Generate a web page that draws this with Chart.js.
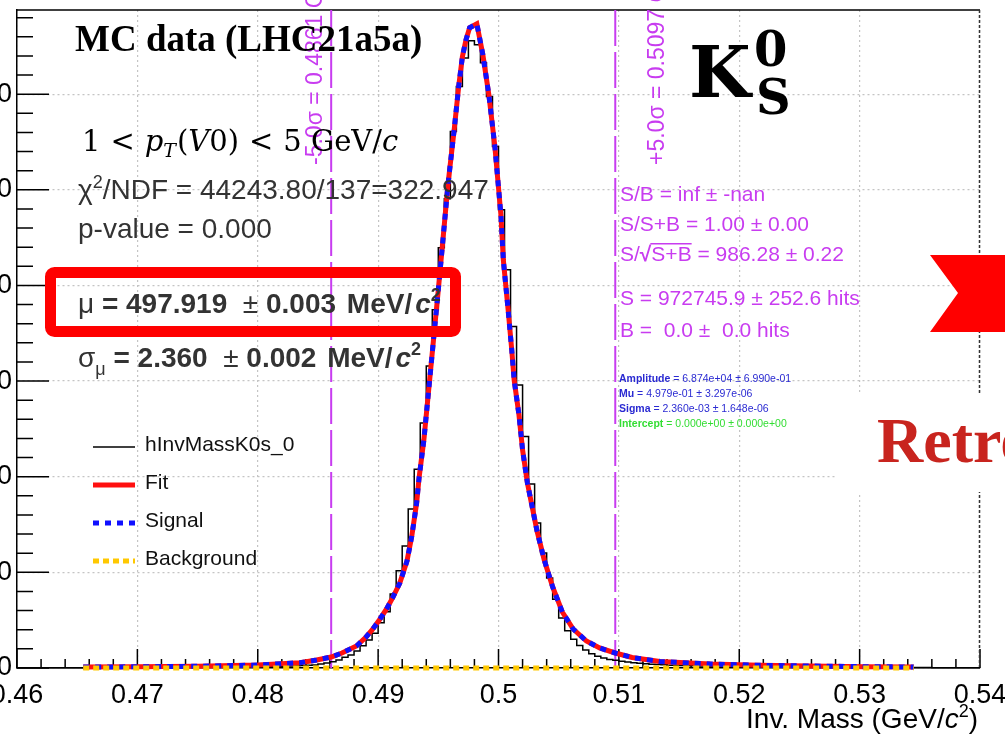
<!DOCTYPE html>
<html>
<head>
<meta charset="utf-8">
<title>K0S invariant mass</title>
<script src="https://cdn.jsdelivr.net/npm/chart.js@4.4.1/dist/chart.umd.min.js"></script>
<style>
  html, body { margin: 0; padding: 0; background: #fff; overflow: hidden; }
  #wrap { position: relative; width: 1005px; height: 734px; }
</style>
</head>
<body>
<div id="wrap"><canvas id="mass" width="1005" height="734"></canvas></div>
<script>
const massMin = 0.46;
const massMax = 0.54;
const binWidth = 0.0005;
const massMinorStep = 0.002;
const countMax = 68800;
const countMinorStep = 2000;

const massTicks = [0.46, 0.47, 0.48, 0.49, 0.5, 0.51, 0.52, 0.53, 0.54];
const countTicks = [0, 10000, 20000, 30000, 40000, 50000, 60000];

// hInvMassK0s_0, 160 bins of 0.5 MeV from 0.46 to 0.54
const histCounts = [
  18, 19, 20, 21, 22, 23, 24, 25, 27, 28,
  30, 32, 33, 35, 37, 39, 41, 43, 45, 48,
  50, 52, 55, 58, 61, 64, 67, 70, 74, 79,
  85, 90, 95, 100, 105, 110, 116, 122, 128, 134,
  140, 150, 165, 180, 195, 215, 235, 260, 285, 314,
  418, 523, 659, 837, 1119, 1360, 1778, 2333, 2929, 3630,
  4738, 5889, 7740, 10178, 12761, 16631, 20784, 25627, 31589, 37447,
  43932, 49057, 56097, 60804, 63775, 65584, 65166, 63283, 59758, 54528,
  47907, 41631, 35700, 29602, 24194, 19246, 15167, 12029, 9414, 7186,
  5230, 3900, 3000, 2350, 1880, 1500, 1230, 1040, 900, 800,
  700, 620, 550, 490, 440, 395, 360, 330, 300, 278,
  258, 240, 224, 210, 197, 185, 174, 164, 155, 147,
  139, 132, 125, 119, 113, 108, 103, 98, 94, 90,
  86, 82, 79, 76, 73, 70, 67, 65, 62, 60,
  58, 56, 54, 52, 50, 48, 47, 45, 44, 42,
  41, 40, 38, 37, 36, 35, 34, 33, 32, 31
];

// fitted line shape, sampled over the fit range
const fitMass = [
  0.4655, 0.4700, 0.4750, 0.4800, 0.4835, 0.4849, 0.4861, 0.4870, 0.4882, 0.4890,
  0.4895, 0.4901, 0.4907, 0.4912, 0.4918, 0.4924, 0.4928, 0.4932, 0.4934, 0.4938,
  0.4942, 0.4946, 0.4950, 0.4954, 0.4958, 0.4963, 0.4967, 0.4970, 0.4973, 0.4976,
  0.4982, 0.4987, 0.4992, 0.4997, 0.5002, 0.5004, 0.5008, 0.5011, 0.5013, 0.5017,
  0.5020, 0.5024, 0.5028, 0.5032, 0.5038, 0.5045, 0.5053, 0.5062, 0.5073, 0.5084,
  0.5097, 0.5111, 0.5134, 0.5176, 0.5217, 0.5259, 0.5304, 0.5345
];
const fitCounts = [
  100, 125, 180, 310, 554, 837, 1150, 1569, 2301, 3243,
  3975, 5021, 6171, 7322, 8891, 11192, 13807, 17259, 19874, 23849,
  29079, 34309, 39539, 44978, 50522, 56066, 60877, 63911, 65689, 66944,
  67362, 64120, 59936, 54497, 47384, 42677, 37447, 33263, 30125, 26464,
  22803, 19351, 16841, 14330, 11297, 8473, 5858, 4079, 2824, 2092,
  1569, 1098, 680, 418, 282, 209, 136, 105
];
// intercept is 0, so the signal part is the whole fit
const signalCounts = fitCounts.slice();
const bkgMass = [0.4655, 0.5345];
const bkgCounts = [0, 0];

// mu -/+ 5 sigma
const sigmaLines = [0.4861, 0.5097];

const SANS = '"Liberation Sans", Arial, sans-serif';
const SERIF = '"Liberation Serif", "Times New Roman", serif';
const MATH = '"DejaVu Serif", serif';
const MAGENTA = '#c83cf0';

const histPoints = histCounts.map((c, i) => ({ x: massMin + i * binWidth, y: c }));
histPoints.push({ x: massMax, y: histCounts[histCounts.length - 1] });
const toPoints = (xs, ys) => xs.map((m, i) => ({ x: m, y: ys[i] }));

// draws text pieces one after another; g = extra gap after a piece
function runs(ctx, x, y, parts) {
  let cx = x;
  for (const p of parts) {
    ctx.font = p.f;
    if (p.c) ctx.fillStyle = p.c;
    ctx.fillText(p.t, cx, y + (p.dy || 0));
    cx += ctx.measureText(p.t).width + (p.g || 0);
  }
  return cx;
}

const overlay = {
  id: 'overlay',
  beforeDatasetsDraw(chart) {
    const { ctx, chartArea: a, scales: { x, y } } = chart;
    ctx.save();
    // ticks point into the frame
    ctx.strokeStyle = '#000';
    ctx.lineWidth = 1.5;
    ctx.beginPath();
    const nx = Math.round((massMax - massMin) / massMinorStep);
    for (let i = 0; i <= nx; i++) {
      const px = x.getPixelForValue(massMin + i * massMinorStep);
      ctx.moveTo(px, a.bottom);
      ctx.lineTo(px, a.bottom - (i % 5 === 0 ? 19 : 9));
    }
    const ny = Math.floor(countMax / countMinorStep);
    for (let i = 0; i <= ny; i++) {
      const py = y.getPixelForValue(i * countMinorStep);
      ctx.moveTo(a.left, py);
      ctx.lineTo(a.left + (i % 5 === 0 ? 32 : 16), py);
    }
    ctx.stroke();

    // top and right side of the frame
    ctx.beginPath();
    ctx.moveTo(a.left, a.top);
    ctx.lineTo(a.right, a.top);
    ctx.stroke();
    ctx.strokeStyle = '#333';
    ctx.setLineDash([3, 2]);
    ctx.beginPath();
    ctx.moveTo(a.right - 0.5, a.top);
    ctx.lineTo(a.right - 0.5, a.bottom);
    ctx.stroke();

    // signal window
    ctx.strokeStyle = MAGENTA;
    ctx.lineWidth = 2;
    ctx.setLineDash([36, 6]);
    ctx.beginPath();
    for (const m of sigmaLines) {
      const px = x.getPixelForValue(m);
      ctx.moveTo(px, a.top);
      ctx.lineTo(px, a.bottom);
    }
    ctx.stroke();
    ctx.restore();
  },
  afterDatasetsDraw(chart) {
    const { ctx } = chart;
    ctx.save();
    ctx.textAlign = 'left';
    ctx.textBaseline = 'alphabetic';

    // window labels, rotated
    ctx.fillStyle = MAGENTA;
    ctx.font = '23px ' + SANS;
    const win = ['-5.0\u03c3 = ' + sigmaLines[0].toFixed(4) + ' GeV', '+5.0\u03c3 = ' + sigmaLines[1].toFixed(4) + ' GeV'];
    [[322, 165], [664, 165]].forEach(([tx, ty], i) => {
      ctx.save();
      ctx.translate(tx, ty);
      ctx.rotate(-Math.PI / 2);
      ctx.fillText(win[i], 0, 0);
      ctx.restore();
    });

    // titles
    ctx.fillStyle = '#000';
    ctx.font = 'bold 37px ' + SERIF;
    ctx.fillText('MC data (LHC21a5a)', 75, 51);

    ctx.font = 'bold 71px ' + MATH;
    ctx.fillText('K', 689, 97);
    ctx.font = 'bold 48px ' + MATH;
    ctx.fillText('0', 754, 66);
    ctx.fillText('S', 756, 114);

    const m29 = '29px ' + MATH, mi29 = 'italic 29px ' + MATH;
    runs(ctx, 82, 151, [
      { t: '1', f: m29, g: 10 }, { t: '<', f: m29, g: 10 },
      { t: 'p', f: mi29 }, { t: 'T', f: 'italic 19px ' + MATH, dy: 6, g: 1 },
      { t: '(', f: m29 }, { t: 'V', f: mi29 }, { t: '0)', f: m29, g: 10 },
      { t: '<', f: m29, g: 10 }, { t: '5 GeV/', f: m29 }, { t: 'c', f: mi29 }
    ]);

    // fit summary
    ctx.fillStyle = '#333';
    const s28 = '28px ' + SANS, b28 = 'bold 28px ' + SANS;
    runs(ctx, 78, 199, [
      { t: '\u03c7', f: s28 }, { t: '2', f: '18px ' + SANS, dy: -11 },
      { t: '/NDF = 44243.80/137=322.947', f: s28 }
    ]);
    runs(ctx, 78, 238, [{ t: 'p-value = 0.000', f: s28 }]);
    runs(ctx, 78, 313, [
      { t: '\u03bc', f: s28 }, { t: ' = 497.919  ', f: b28 }, { t: '\u00b1', f: s28 },
      { t: ' 0.003 ', f: b28, g: 3 }, { t: 'MeV/', f: b28, g: 3 },
      { t: 'c', f: 'bold italic 28px ' + SANS },
      { t: '2', f: 'bold 18px ' + SANS, dy: -12 }
    ]);
    runs(ctx, 78, 367, [
      { t: '\u03c3', f: s28 }, { t: '\u03bc', f: '18px ' + SANS, dy: 8 },
      { t: ' = 2.360  ', f: b28 }, { t: '\u00b1', f: s28 },
      { t: ' 0.002 ', f: b28, g: 3 }, { t: 'MeV/', f: b28, g: 3 },
      { t: 'c', f: 'bold italic 28px ' + SANS },
      { t: '2', f: 'bold 18px ' + SANS, dy: -12 }
    ]);

    // yields in the window
    ctx.fillStyle = MAGENTA;
    const m21 = '21px ' + SANS;
    runs(ctx, 620, 201, [{ t: 'S/B = inf \u00b1 -nan', f: m21 }]);
    runs(ctx, 620, 231, [{ t: 'S/S+B = 1.00 \u00b1 0.00', f: m21 }]);
    let cx = runs(ctx, 620, 261, [{ t: 'S/', f: m21 }, { t: '\u221a', f: 'bold 21px ' + SANS }]);
    const ox = cx;
    cx = runs(ctx, cx, 261, [{ t: 'S+B', f: m21 }]);
    ctx.fillRect(ox - 1, 243, cx - ox + 1, 1.5);
    runs(ctx, cx, 261, [{ t: ' = 986.28 \u00b1 0.22', f: m21 }]);
    runs(ctx, 620, 305, [{ t: 'S = 972745.9 \u00b1 252.6 hits', f: m21 }]);
    runs(ctx, 620, 337, [{ t: 'B =  0.0 \u00b1  0.0 hits', f: m21 }]);

    // fit parameters
    const p10 = '10.5px ' + SANS, pb10 = 'bold 10.5px ' + SANS;
    const params = [
      ['Amplitude', ' = 6.874e+04 \u00b1 6.990e-01', '#2a2ad2'],
      ['Mu', ' = 4.979e-01 \u00b1 3.297e-06', '#2a2ad2'],
      ['Sigma', ' = 2.360e-03 \u00b1 1.648e-06', '#2a2ad2'],
      ['Intercept', ' = 0.000e+00 \u00b1 0.000e+00', '#33dd33']
    ];
    params.forEach(([name, val, col], i) => {
      ctx.fillStyle = col;
      runs(ctx, 619, 382 + i * 15, [{ t: name, f: pb10 }, { t: val, f: p10 }]);
    });

    // legend
    const order = [3, 2, 1, 0];
    order.forEach((di, i) => {
      const ds = chart.data.datasets[di];
      const ly = 447 + i * 38;
      ctx.save();
      ctx.strokeStyle = ds.borderColor;
      ctx.lineWidth = ds.borderWidth;
      ctx.setLineDash(ds.borderDash || []);
      ctx.beginPath();
      ctx.moveTo(93, ly);
      ctx.lineTo(135, ly);
      ctx.stroke();
      ctx.restore();
      ctx.fillStyle = '#111';
      ctx.font = '21px ' + SANS;
      ctx.fillText(ds.label, 145, ly + 4);
    });

    // axis title
    ctx.fillStyle = '#000';
    const t28 = '28px ' + SANS;
    const title = [
      { t: 'Inv. Mass (GeV/', f: t28 }, { t: 'c', f: 'italic 28px ' + SANS },
      { t: '2', f: '18px ' + SANS, dy: -11 }, { t: ')', f: t28 }
    ];
    let tw = 0;
    for (const p of title) { ctx.font = p.f; tw += ctx.measureText(p.t).width; }
    runs(ctx, 978 - tw, 728, title);

    // highlight around the mass
    ctx.strokeStyle = '#ff0000';
    ctx.lineWidth = 11;
    ctx.lineJoin = 'round';
    ctx.beginPath();
    ctx.roundRect(50.5, 272.5, 405, 59, 4);
    ctx.stroke();

    // banner pieces on the right
    ctx.fillStyle = '#fff';
    ctx.fillRect(836, 393, 170, 99);
    ctx.fillStyle = '#c8241e';
    ctx.font = 'bold 64px ' + SERIF;
    ctx.fillText('Retro', 877, 462);
    ctx.fillStyle = '#ff0000';
    ctx.beginPath();
    ctx.moveTo(930, 255);
    ctx.lineTo(1005, 255);
    ctx.lineTo(1005, 332);
    ctx.lineTo(930, 332);
    ctx.lineTo(958, 293);
    ctx.closePath();
    ctx.fill();
    ctx.restore();
  }
};

new Chart(document.getElementById('mass'), {
  type: 'line',
  data: {
    datasets: [
      {
        label: 'Background',
        data: toPoints(bkgMass, bkgCounts),
        borderColor: '#ffc800',
        borderWidth: 5,
        borderDash: [6, 4],
        pointRadius: 0,
        clip: 6
      },
      {
        label: 'Signal',
        data: toPoints(fitMass, signalCounts),
        borderColor: '#1010ff',
        borderWidth: 5,
        borderDash: [6, 6],
        pointRadius: 0,
        clip: 6
      },
      {
        label: 'Fit',
        data: toPoints(fitMass, fitCounts),
        borderColor: '#ff1010',
        borderWidth: 5,
        pointRadius: 0,
        clip: 6
      },
      {
        label: 'hInvMassK0s_0',
        data: histPoints,
        borderColor: '#000',
        borderWidth: 1.5,
        stepped: 'before',
        pointRadius: 0,
        clip: 2
      }
    ]
  },
  options: {
    responsive: false,
    devicePixelRatio: 1,
    animation: false,
    events: [],
    layout: { padding: { top: 10, right: 25, left: 0, bottom: 0 } },
    plugins: {
      legend: { display: false },
      tooltip: { enabled: false }
    },
    scales: {
      x: {
        type: 'linear',
        min: massMin,
        max: massMax,
        afterBuildTicks: s => { s.ticks = massTicks.map(v => ({ value: v })); },
        afterFit: s => { s.height = 66; s.paddingLeft = 0; s.paddingRight = 0; },
        ticks: {
          autoSkip: false,
          maxRotation: 0,
          padding: 11,
          color: '#000',
          font: { family: 'Liberation Sans', size: 27 },
          callback: v => String(v)
        },
        grid: { color: '#c4c4c4', lineWidth: 1.2, drawTicks: false },
        border: { color: '#000', width: 1.5, dash: [2, 3] }
      },
      y: {
        type: 'linear',
        min: 0,
        max: countMax,
        afterBuildTicks: s => { s.ticks = countTicks.map(v => ({ value: v })); },
        afterFit: s => { s.width = 17; s.paddingTop = 0; s.paddingBottom = 0; },
        ticks: {
          padding: 5,
          color: '#000',
          font: { family: 'Liberation Sans', size: 27 },
          callback: v => String(v)
        },
        grid: { color: '#c4c4c4', lineWidth: 1.2, drawTicks: false },
        border: { color: '#000', width: 1.5, dash: [2, 3] }
      }
    }
  },
  plugins: [overlay]
});
</script>
</body>
</html>
